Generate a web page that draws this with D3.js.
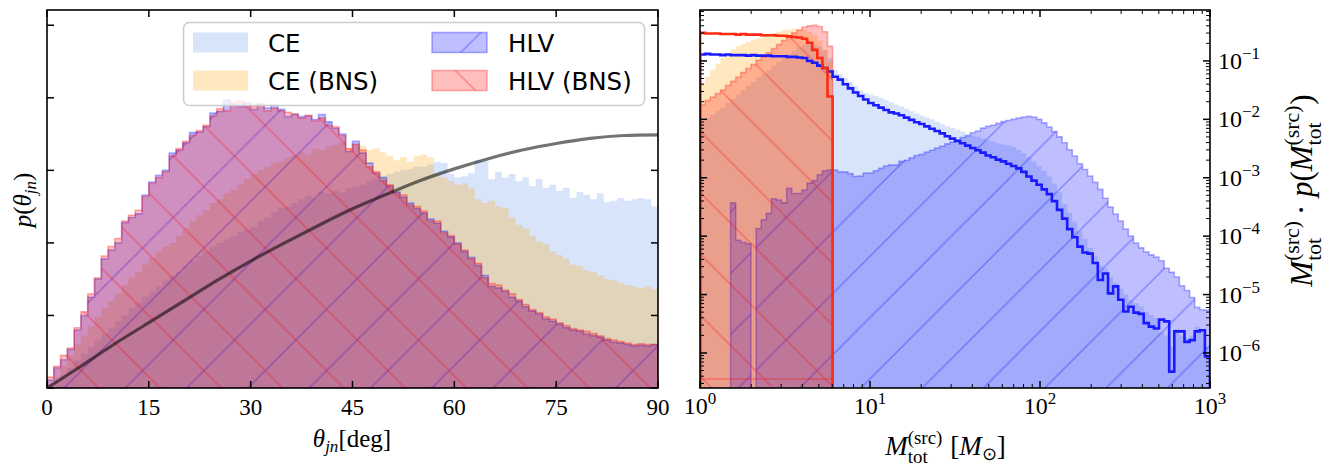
<!DOCTYPE html>
<html>
<head>
<meta charset="utf-8">
<script src="https://cdn.jsdelivr.net/npm/d3@7"></script>
<style>
  body { margin: 0; background: #fff; }
  text { fill: #000; }
</style>
</head>
<body>
<svg id="chart" width="1326" height="466"></svg>
<script>
// ---------------- data ----------------
// Left panel: theta_jn histograms, 1 degree bins, density in units of 0.005 / deg
const thetaEdges = d3.range(0, 91);
const ceTheta = [
  0.03, 0.1, 0.18, 0.28, 0.38, 0.47, 0.56, 0.65, 0.75, 0.83,
  0.92, 1.0, 1.1, 1.18, 1.26, 1.33, 1.4, 1.48, 1.55, 1.6,
  1.68, 1.75, 1.82, 1.88, 1.95, 2.0, 2.05, 2.1, 2.15, 2.18,
  2.22, 2.3, 2.35, 2.42, 2.48, 2.5, 2.55, 2.6, 2.65, 2.62,
  2.7, 2.68, 2.72, 2.69, 2.75, 2.78, 2.8, 2.85, 2.88, 2.92,
  2.95, 2.98, 3.0, 3.02, 3.05, 3.05, 3.08, 3.12, 3.1, 2.95,
  2.9, 2.92, 2.96, 3.14, 3.13, 2.88, 2.98, 2.9, 2.95, 2.85,
  2.9, 2.78, 2.88, 2.76, 2.8, 2.72, 2.76, 2.62, 2.7, 2.66,
  2.6, 2.68, 2.56, 2.58, 2.62, 2.58, 2.6, 2.62, 2.6, 2.5
];
const ceBnsTheta = [
  0.05, 0.15, 0.3, 0.45, 0.6, 0.72, 0.85, 0.98, 1.1, 1.2,
  1.3, 1.42, 1.52, 1.6, 1.7, 1.8, 1.88, 1.95, 2.0, 2.1,
  2.2, 2.3, 2.38, 2.45, 2.55, 2.6, 2.68, 2.73, 2.8, 2.88,
  2.95, 3.0, 3.05, 3.1, 3.12, 3.18, 3.2, 3.25, 3.22, 3.3,
  3.28, 3.33, 3.35, 3.38, 3.3, 3.36, 3.34, 3.28, 3.3, 3.25,
  3.2, 3.14, 3.18, 3.12, 3.2, 3.22, 3.18, 2.95, 2.9, 2.85,
  2.8, 2.82, 2.75, 2.6, 2.55, 2.58, 2.5, 2.48, 2.35, 2.25,
  2.2, 2.1, 2.02, 1.98, 1.88, 1.83, 1.78, 1.7, 1.68, 1.62,
  1.6, 1.55, 1.5, 1.48, 1.45, 1.42, 1.4, 1.38, 1.4, 1.36
];
const hlvTheta = [
  0.11, 0.28, 0.39, 0.53, 0.8, 1.0, 1.25, 1.5, 1.78, 1.9,
  2.0, 2.28, 2.35, 2.4, 2.66, 2.84, 2.93, 3.0, 3.24, 3.28,
  3.38, 3.52, 3.53, 3.6, 3.79, 3.81, 3.97, 3.9, 3.88, 3.93,
  3.84, 3.9, 3.86, 3.9, 3.84, 3.74, 3.77, 3.74, 3.75, 3.7,
  3.77, 3.67, 3.58, 3.5, 3.26, 3.4, 3.24, 3.1, 2.96, 2.9,
  2.78, 2.7, 2.63, 2.55, 2.47, 2.41, 2.33, 2.27, 2.16, 2.08,
  2.0, 1.88, 1.8, 1.69, 1.55, 1.4, 1.38, 1.33, 1.25, 1.2,
  1.12, 1.06, 1.02, 0.95, 0.92, 0.88, 0.83, 0.8, 0.78, 0.74,
  0.72, 0.7, 0.66, 0.63, 0.62, 0.6, 0.58, 0.59, 0.58, 0.6
];
const hlvBnsTheta = [
  0.15, 0.3, 0.45, 0.55, 0.83, 1.05, 1.3, 1.52, 1.82, 1.95,
  2.06, 2.3, 2.38, 2.45, 2.64, 2.82, 2.9, 2.98, 3.2, 3.3,
  3.4, 3.48, 3.55, 3.62, 3.75, 3.85, 3.82, 3.93, 3.95, 3.88,
  3.88, 3.92, 3.82, 3.86, 3.82, 3.8, 3.78, 3.72, 3.76, 3.68,
  3.72, 3.62, 3.6, 3.48, 3.3, 3.36, 3.28, 3.05, 2.98, 2.86,
  2.8, 2.68, 2.66, 2.52, 2.5, 2.44, 2.3, 2.3, 2.14, 2.1,
  1.98, 1.9, 1.78, 1.72, 1.52, 1.44, 1.42, 1.35, 1.3, 1.22,
  1.15, 1.08, 1.04, 0.98, 0.95, 0.9, 0.86, 0.82, 0.8, 0.78,
  0.75, 0.72, 0.68, 0.66, 0.64, 0.62, 0.6, 0.61, 0.6, 0.6
];
// isotropic prior curve, read every 5 deg
const priorThetaDeg = [0, 5, 10, 15, 20, 25, 30, 35, 40, 45, 50, 55, 60, 65, 70, 75, 80, 85, 90];
const priorTheta = [0, 0.30, 0.61, 0.90, 1.19, 1.48, 1.75, 2.0, 2.24, 2.47, 2.67, 2.86, 3.02, 3.16, 3.28, 3.37, 3.44, 3.48, 3.49];

// Right panel: total source mass, 100 log bins from 1 to 1000 Msun, log10(M p(M))
const massEdges = d3.range(101).map(i => Math.pow(10, i * 0.03));
const ceMass = [
  -2.05, -1.98, -1.92, -1.86, -1.8, -1.72, -1.65, -1.58, -1.5, -1.43,
  -1.36, -1.29, -1.23, -1.16, -1.09, -1.02, -0.95, -0.88, -0.82, -0.77,
  -0.72, -0.7, -0.72, -0.75, -0.82, -0.95,
  -1.15, -1.22, -1.3, -1.36, -1.43, -1.5, -1.55, -1.58, -1.6, -1.63,
  -1.67, -1.71, -1.75, -1.78, -1.82, -1.86, -1.9, -1.94, -1.97, -2.0,
  -2.04, -2.08, -2.12, -2.15, -2.18, -2.21, -2.25, -2.28, -2.3, -2.33,
  -2.36, -2.38, -2.41, -2.43, -2.45, -2.47, -2.52, -2.58, -2.65, -2.72,
  -2.8, -2.88, -2.98, -3.1, -3.25, -3.45, -3.6, -3.75, -3.92, -4.05,
  -4.2, -4.35, -4.5, -4.55, -4.7, -4.8, -4.9, -5.0, -5.1, -5.15,
  -5.2, -5.3, -5.35, -5.4, -5.65, -5.7, -5.9, -5.6, -5.7, -5.75,
  -5.7, -5.55, -5.6, -5.9
];
const ceBnsMass = [
  -1.38, -1.27, -1.15, -1.05, -0.95, -0.87, -0.8, -0.75, -0.71, -0.67,
  -0.64, -0.61, -0.58, -0.55, -0.52, -0.5, -0.47, -0.46, -0.45, -0.45,
  -0.46, -0.5, -0.56, -0.65, -0.8, -1.0
];
const hlvMass = [
  null, null, null, null, null, null, -3.43, -4.07, -4.11, -4.13,
  null, -3.87, -3.72, -3.61, -3.36, -3.38, -3.43, -3.18, -3.27, -3.27,
  -3.21, -3.09, -3.05, -2.95, -2.88, -2.87, -2.87, -2.9, -2.9, -2.93,
  -2.98, -2.97, -2.92, -2.92, -2.88, -2.84,
  -2.8, -2.78, -2.78, -2.72, -2.7, -2.66, -2.62, -2.6, -2.56, -2.53,
  -2.49, -2.46, -2.42, -2.39, -2.35, -2.31, -2.28, -2.23, -2.2, -2.15,
  -2.12, -2.1, -2.07, -2.04, -2.02, -2.0, -1.98, -1.96, -1.95, -1.96,
  -2.0, -2.06, -2.13, -2.21, -2.3, -2.4, -2.52, -2.63, -2.76, -2.86,
  -2.97, -3.08, -3.2, -3.35, -3.5, -3.62, -3.74, -3.88, -4.0, -4.12,
  -4.2, -4.27, -4.32, -4.36, -4.42, -4.55, -4.62, -4.7, -4.85, -4.93,
  -5.05, -5.22, -5.26, -5.27
];
const hlvBnsMass = [
  -1.75, -1.68, -1.62, -1.56, -1.5, -1.42, -1.35, -1.28, -1.2, -1.13,
  -1.06, -0.99, -0.93, -0.86, -0.79, -0.72, -0.65, -0.58, -0.52, -0.47,
  -0.42, -0.4, -0.39, -0.41, -0.5, -0.75
];
// population curves (thick step lines)
const bbhPriorMass = [
  -0.89, -0.88, -0.89, -0.89, -0.9, -0.89, -0.9, -0.9, -0.9, -0.91,
  -0.9, -0.91, -0.91, -0.91, -0.92, -0.92, -0.92, -0.93, -0.93, -0.94,
  -0.95, -1.0, -1.03, -1.08, -1.12, -1.18, -1.27, -1.32, -1.4, -1.47,
  -1.54, -1.6, -1.66, -1.72, -1.76, -1.8, -1.84, -1.88, -1.9, -1.93,
  -1.97, -2.01, -2.05, -2.08, -2.12, -2.16, -2.2, -2.24, -2.29, -2.33,
  -2.37, -2.41, -2.45, -2.49, -2.53, -2.57, -2.62, -2.65, -2.69, -2.72,
  -2.76, -2.8, -2.84, -2.9, -2.98, -3.05, -3.12, -3.2, -3.28, -3.4,
  -3.55, -3.7, -3.88, -4.02, -4.18, -4.28, -4.3, -4.46, -4.75, -4.64,
  -4.98, -4.86, -5.09, -5.29, -5.21, -5.31, -5.33, -5.49, -5.55, -5.58,
  -5.43, -5.46, -6.32, -5.63, -5.63, -5.81, -5.78, -5.63, -5.61, -6.06
];
const bnsPriorMass = [
  -0.52, -0.53, -0.53, -0.53, -0.54, -0.54, -0.54, -0.55, -0.54, -0.55,
  -0.55, -0.55, -0.56, -0.56, -0.56, -0.57, -0.57, -0.58, -0.59, -0.6,
  -0.62, -0.69, -0.81, -0.95, -1.12, -1.61
];

const thetaTicks = [0, 15, 30, 45, 60, 75, 90];
const densityTicks = [0, 1, 2, 3, 4, 5];
const massDecades = [0, 1, 2, 3];
const yDecades = [-1, -2, -3, -4, -5, -6];
const legendItems = [
  { label: "CE", color: "cornflowerblue", hatch: null },
  { label: "CE (BNS)", color: "orange", hatch: null },
  { label: "HLV", color: "blue", hatch: "hatchHLV" },
  { label: "HLV (BNS)", color: "red", hatch: "hatchHLVBNS" }
];

// ---------------- setup ----------------
const svg = d3.select("#chart");
const defs = svg.append("defs");
const serif = "'Liberation Serif', 'Times New Roman', serif";
const sans = "'DejaVu Sans', sans-serif";

const xL = d3.scaleLinear().domain([0, 90]).range([47, 658]);
const yL = d3.scaleLinear().domain([0, 5.21]).range([388, 10]);
const xR = d3.scaleLog().domain([1, 1000]).range([700, 1210]);
const yR = d3.scaleLog().domain([Math.pow(10, -6.6), Math.pow(10, -0.128)]).range([388, 10]);
const yRv = v => yR(Math.pow(10, v));

defs.append("clipPath").attr("id", "clipL").append("rect")
  .attr("x", 47).attr("y", 10).attr("width", 611).attr("height", 378);
defs.append("clipPath").attr("id", "clipR").append("rect")
  .attr("x", 700).attr("y", 10).attr("width", 510).attr("height", 378);

// hatch patterns, anchored in page space
const S = 61.3;
function addHatch(id, color, dir, offset) {
  const p = defs.append("pattern").attr("id", id)
    .attr("patternUnits", "userSpaceOnUse")
    .attr("width", S).attr("height", S)
    .attr("x", offset).attr("y", 0);
  const d = dir === "/"
    ? `M-2,${S + 2}L${S + 2},-2M-2,2L2,-2M${S - 2},${S + 2}L${S + 2},${S - 2}`
    : `M-2,-2L${S + 2},${S + 2}M${S - 2},-2L${S + 2},2M-2,${S - 2}L2,${S + 2}`;
  p.append("path").attr("d", d)
    .attr("fill", "none")
    .attr("stroke", color)
    .attr("stroke-opacity", 0.32)
    .attr("stroke-width", 1.4);
}
addHatch("hatchHLV", "blue", "/", 513.3 % S);
addHatch("hatchHLVBNS", "red", "\\", 385 % S);

// step outline of a histogram; null bins break the shape
function stepPath(edges, vals, x, y, base, closed) {
  let d = "";
  let open = false;
  const end = i => {
    d += `L${x(edges[i])},${base}`;
    if (closed) d += "Z";
  };
  vals.forEach((v, i) => {
    if (v == null) {
      if (open) { end(i); open = false; }
      return;
    }
    if (!open) {
      d += `M${x(edges[i])},${base}L${x(edges[i])},${y(v)}`;
      open = true;
    } else {
      d += `L${x(edges[i])},${y(v)}`;
    }
    d += `L${x(edges[i + 1])},${y(v)}`;
  });
  if (open) end(vals.length);
  return d;
}

function histLayer(g, d, color, hatchId, edgePath) {
  g.append("path").attr("d", d)
    .attr("fill", color).attr("fill-opacity", 0.25)
    .attr("stroke", "none");
  if (hatchId) {
    g.append("path").attr("d", d).attr("fill", `url(#${hatchId})`);
  }
  if (edgePath) {
    g.append("path").attr("d", edgePath)
      .attr("fill", "none")
      .attr("stroke", color).attr("stroke-opacity", 0.3)
      .attr("stroke-width", 1.6);
  }
}

// ---------------- left panel ----------------
const gL = svg.append("g").attr("clip-path", "url(#clipL)");
const baseL = yL(0);
histLayer(gL, stepPath(thetaEdges, ceTheta, xL, yL, baseL, true), "cornflowerblue", null, null);
histLayer(gL, stepPath(thetaEdges, ceBnsTheta, xL, yL, baseL, true), "orange", null, null);
const hlvThetaPath = stepPath(thetaEdges, hlvTheta, xL, yL, baseL, true);
histLayer(gL, hlvThetaPath, "blue", "hatchHLV", hlvThetaPath);
const hlvBnsThetaPath = stepPath(thetaEdges, hlvBnsTheta, xL, yL, baseL, true);
histLayer(gL, hlvBnsThetaPath, "red", "hatchHLVBNS", hlvBnsThetaPath);

const priorLine = d3.line()
  .x((d, i) => xL(priorThetaDeg[i]))
  .y(d => yL(d))
  .curve(d3.curveNatural);
gL.append("path").attr("d", priorLine(priorTheta))
  .attr("fill", "none")
  .attr("stroke", "#000").attr("stroke-opacity", 0.55)
  .attr("stroke-width", 3.2);

// frame + ticks
const axL = svg.append("g").attr("stroke", "#000");
axL.append("rect").attr("x", 47).attr("y", 10).attr("width", 611).attr("height", 378)
  .attr("fill", "none").attr("stroke-width", 1.6);
thetaTicks.forEach(t => {
  axL.append("line").attr("x1", xL(t)).attr("x2", xL(t)).attr("y1", 388).attr("y2", 381).attr("stroke-width", 1.5);
  axL.append("line").attr("x1", xL(t)).attr("x2", xL(t)).attr("y1", 10).attr("y2", 17).attr("stroke-width", 1.5);
});
densityTicks.forEach(t => {
  axL.append("line").attr("x1", 47).attr("x2", 54).attr("y1", yL(t)).attr("y2", yL(t)).attr("stroke-width", 1.5);
  axL.append("line").attr("x1", 658).attr("x2", 651).attr("y1", yL(t)).attr("y2", yL(t)).attr("stroke-width", 1.5);
});
svg.append("g").selectAll("text").data(thetaTicks).enter().append("text")
  .attr("x", d => xL(d)).attr("y", 415)
  .attr("text-anchor", "middle")
  .attr("font-family", serif).attr("font-size", 23)
  .text(d => d);

// x label: theta_jn [deg]
const xlabL = svg.append("text").attr("x", 352).attr("y", 447)
  .attr("text-anchor", "middle").attr("font-family", serif).attr("font-size", 25);
xlabL.append("tspan").attr("font-style", "italic").text("θ");
xlabL.append("tspan").attr("font-style", "italic").attr("font-size", 17).attr("dy", 5).text("jn");
xlabL.append("tspan").attr("dy", -5).text("[deg]");

// y label: p(theta_jn)
const ylabL = svg.append("text")
  .attr("transform", "translate(31,200) rotate(-90)")
  .attr("text-anchor", "middle").attr("font-family", serif).attr("font-size", 25);
ylabL.append("tspan").attr("font-style", "italic").text("p");
ylabL.append("tspan").text("(");
ylabL.append("tspan").attr("font-style", "italic").text("θ");
ylabL.append("tspan").attr("font-style", "italic").attr("font-size", 17).attr("dy", 5).text("jn");
ylabL.append("tspan").attr("dy", -5).text(")");

// legend
const leg = svg.append("g");
leg.append("rect").attr("x", 183.5).attr("y", 22.5).attr("width", 461).attr("height", 83).attr("rx", 6)
  .attr("fill", "#fff").attr("fill-opacity", 0.8)
  .attr("stroke", "#cccccc").attr("stroke-width", 1.5);
legendItems.forEach((it, i) => {
  const col = Math.floor(i / 2), row = i % 2;
  const px = col === 0 ? 193 : 432;
  const py = row === 0 ? 32.5 : 70.5;
  const r = leg.append("g");
  r.append("rect").attr("x", px).attr("y", py).attr("width", 55).attr("height", 20)
    .attr("fill", it.color).attr("fill-opacity", 0.25);
  if (it.hatch) {
    r.append("rect").attr("x", px).attr("y", py).attr("width", 55).attr("height", 20)
      .attr("fill", `url(#${it.hatch})`);
    r.append("rect").attr("x", px).attr("y", py).attr("width", 55).attr("height", 20)
      .attr("fill", "none").attr("stroke", it.color).attr("stroke-opacity", 0.3).attr("stroke-width", 1.6);
  }
  r.append("text").attr("x", col === 0 ? 268 : 508).attr("y", py + 19.5)
    .attr("font-family", sans).attr("font-size", 24.5)
    .text(it.label);
});

// ---------------- right panel ----------------
const gR = svg.append("g").attr("clip-path", "url(#clipR)");
const baseR = 392;
histLayer(gR, stepPath(massEdges, ceMass, xR, yRv, baseR, true), "cornflowerblue", null, null);
histLayer(gR, stepPath(massEdges, ceBnsMass, xR, yRv, baseR, true), "orange", null, null);
const hlvMassPath = stepPath(massEdges, hlvMass, xR, yRv, baseR, true);
histLayer(gR, hlvMassPath, "blue", "hatchHLV", hlvMassPath);
// BNS outline closes at a small floor value, which shows as a thin line near the bottom
histLayer(gR, stepPath(massEdges, hlvBnsMass, xR, yRv, baseR, true), "red", "hatchHLVBNS",
  stepPath(massEdges, hlvBnsMass, xR, yRv, yRv(-6.445), true));

gR.append("path").attr("d", stepPath(massEdges, bbhPriorMass, xR, yRv, baseR, false))
  .attr("fill", "none").attr("stroke", "#1a1aff").attr("stroke-width", 2.6);
gR.append("path").attr("d", stepPath(massEdges, bnsPriorMass, xR, yRv, baseR, false))
  .attr("fill", "none").attr("stroke", "#ff2a12").attr("stroke-width", 2.6);

// frame + ticks
const axR = svg.append("g").attr("stroke", "#000");
axR.append("rect").attr("x", 700).attr("y", 10).attr("width", 510).attr("height", 378)
  .attr("fill", "none").attr("stroke-width", 1.6);
massDecades.forEach(k => {
  const v = Math.pow(10, k);
  axR.append("line").attr("x1", xR(v)).attr("x2", xR(v)).attr("y1", 388).attr("y2", 381).attr("stroke-width", 1.5);
  axR.append("line").attr("x1", xR(v)).attr("x2", xR(v)).attr("y1", 10).attr("y2", 17).attr("stroke-width", 1.5);
  if (k < 3) {
    d3.range(2, 10).forEach(m => {
      const x = xR(m * v);
      axR.append("line").attr("x1", x).attr("x2", x).attr("y1", 388).attr("y2", 384).attr("stroke-width", 1);
      axR.append("line").attr("x1", x).attr("x2", x).attr("y1", 10).attr("y2", 14).attr("stroke-width", 1);
    });
  }
});
const [yMin, yMax] = yR.domain();
d3.range(-7, 1).forEach(k => {
  const v = Math.pow(10, k);
  if (v >= yMin && v <= yMax) {
    axR.append("line").attr("x1", 700).attr("x2", 707).attr("y1", yR(v)).attr("y2", yR(v)).attr("stroke-width", 1.5);
    axR.append("line").attr("x1", 1210).attr("x2", 1203).attr("y1", yR(v)).attr("y2", yR(v)).attr("stroke-width", 1.5);
  }
  d3.range(2, 10).forEach(m => {
    const w = m * v;
    if (w < yMin || w > yMax) return;
    axR.append("line").attr("x1", 700).attr("x2", 704).attr("y1", yR(w)).attr("y2", yR(w)).attr("stroke-width", 1);
    axR.append("line").attr("x1", 1210).attr("x2", 1206).attr("y1", yR(w)).attr("y2", yR(w)).attr("stroke-width", 1);
  });
});

function pow10Label(x, y, exp, anchor) {
  const t = svg.append("text").attr("x", x).attr("y", y)
    .attr("text-anchor", anchor).attr("font-family", serif).attr("font-size", 24);
  t.append("tspan").text("10");
  t.append("tspan").attr("font-size", 17).attr("dy", -10).text(exp < 0 ? "\u2212" + (-exp) : exp);
  return t;
}
massDecades.forEach(k => pow10Label(xR(Math.pow(10, k)), 414, k, "middle"));
yDecades.forEach(k => pow10Label(1218, yR(Math.pow(10, k)) + 8, k, "start"));

// M_tot^(src): stacked sub/superscript inside a text element
function mtot(t, fs) {
  t.append("tspan").attr("font-style", "italic").text("M");
  const sup = t.append("tspan").attr("font-size", fs * 0.7).attr("dy", -0.42 * fs).text("(src)");
  const wSup = sup.node().getComputedTextLength();
  const sub = t.append("tspan").attr("font-size", fs * 0.7)
    .attr("dx", -wSup).attr("dy", 0.42 * fs + 0.3 * fs).text("tot");
  const wSub = sub.node().getComputedTextLength();
  return { dx: Math.max(0, wSup - wSub), dy: -0.3 * fs };
}

// x label
const gxR = svg.append("g");
const fx = 27;
const xlabR = gxR.append("text").attr("x", 0).attr("y", 0)
  .attr("font-family", serif).attr("font-size", fx);
let back = mtot(xlabR, fx);
xlabR.append("tspan").attr("dx", back.dx + 8).attr("dy", back.dy).text("[");
xlabR.append("tspan").attr("font-style", "italic").text("M");
xlabR.append("tspan").attr("font-size", fx * 0.68).attr("dy", 5).text("\u2299");
xlabR.append("tspan").attr("dy", -5).text("]");
const bx = xlabR.node().getBBox();
gxR.attr("transform", `translate(${946 - bx.width / 2},455)`);

// y label (rotated)
const gyR = svg.append("g");
const fy = 31;
const ylabR = gyR.append("text").attr("x", 0).attr("y", 0)
  .attr("font-family", serif).attr("font-size", fy);
back = mtot(ylabR, fy);
ylabR.append("tspan").attr("dx", back.dx + 6).attr("dy", back.dy).text("\u00b7 ");
ylabR.append("tspan").attr("font-style", "italic").text("p");
ylabR.append("tspan").text("(");
back = mtot(ylabR, fy);
ylabR.append("tspan").attr("dx", back.dx + 1).attr("dy", back.dy).text(")");
const by = ylabR.node().getBBox();
gyR.attr("transform", `translate(1312,${190 + by.width / 2}) rotate(-90)`);
</script>
</body>
</html>
